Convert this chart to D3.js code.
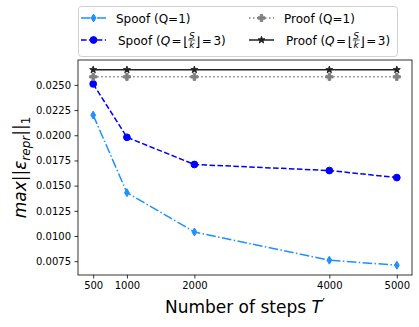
<!DOCTYPE html>
<html>
<head>
<meta charset="utf-8">
<script src="https://cdn.jsdelivr.net/npm/d3@7"></script>
<style>
  body { margin: 0; background: #fff; }
  text { font-family: "DejaVu Sans", sans-serif; fill: #000; }
</style>
</head>
<body>
<div id="chart"></div>
<script>
const steps = [500, 1000, 2000, 4000, 5000];
const spoofQ1 = [0.0220, 0.0143, 0.0104, 0.0076, 0.0071];
const spoofQ3 = [0.0251, 0.0198, 0.0171, 0.0165, 0.0158];
const proofQ1 = [0.0258, 0.0258, 0.0258, 0.0258, 0.0258];
const proofQ3 = [0.0265, 0.0265, 0.0265, 0.0265, 0.0265];
const yTicks = [0.0075, 0.0100, 0.0125, 0.0150, 0.0175, 0.0200, 0.0225, 0.0250];

const W = 419, H = 327;
const plot = { left: 78, top: 60, right: 412, bottom: 275 };

const svg = d3.select('#chart').append('svg')
  .attr('width', W)
  .attr('height', H);

const x = d3.scaleLinear().domain([275, 5225]).range([plot.left, plot.right]);
const y = d3.scaleLinear().domain([0.00613, 0.02747]).range([plot.bottom, plot.top]);

// thin diamond like matplotlib 'd'
const thinDiamond = (s) => `M0,${-s}L${s * 0.6},0L0,${s}L${-s * 0.6},0Z`;

const series = [
  { name: 'spoof1', values: spoofQ1, color: '#1e90ff', dash: '9.6,2.4,1.5,2.4', marker: 'diamond' },
  { name: 'spoof3', values: spoofQ3, color: '#0000ff', dash: '5.55,2.4', marker: 'circle' },
  { name: 'proof1', values: proofQ1, color: '#808080', dash: '1.5,2.5', marker: 'plus' },
  { name: 'proof3', values: proofQ3, color: '#222222', dash: null, marker: 'star' }
];

const markerPath = (m) => {
  if (m === 'diamond') return thinDiamond(4);
  if (m === 'circle') return d3.symbol(d3.symbolCircle, 36)();
  if (m === 'plus') return d3.symbol(d3.symbolCross, 28)();
  return d3.symbol(d3.symbolStar, 15)();
};

const axes = svg.append('g');

const line = d3.line().x((d, i) => x(steps[i])).y(d => y(d));

series.forEach(s => {
  const g = axes.append('g').attr('class', s.name);
  g.append('path')
    .datum(s.values)
    .attr('d', line)
    .attr('fill', 'none')
    .attr('stroke', s.color)
    .attr('stroke-width', 1.5)
    .attr('stroke-dasharray', s.dash);
  g.selectAll('path.mk')
    .data(s.values)
    .join('path')
    .attr('class', 'mk')
    .attr('d', markerPath(s.marker))
    .attr('transform', (d, i) => `translate(${x(steps[i])},${y(d)})`)
    .attr('fill', s.color)
    .attr('stroke', s.color)
    .attr('stroke-width', 1);
});

// x axis
const xAxis = svg.append('g')
  .attr('transform', `translate(0,${plot.bottom})`)
  .call(d3.axisBottom(x).tickValues(steps).tickFormat(d3.format('d')).tickSize(3.5).tickPadding(3.5));
xAxis.select('.domain').remove();
xAxis.selectAll('text').attr('font-size', 10).attr('font-family', 'DejaVu Sans');
xAxis.selectAll('line').attr('stroke', '#000').attr('stroke-width', 0.8);

// y axis
const yAxis = svg.append('g')
  .attr('transform', `translate(${plot.left},0)`)
  .call(d3.axisLeft(y).tickValues(yTicks).tickFormat(d3.format('.4f')).tickSize(3.5).tickPadding(3.5));
yAxis.select('.domain').remove();
yAxis.selectAll('text').attr('font-size', 10).attr('font-family', 'DejaVu Sans');
yAxis.selectAll('line').attr('stroke', '#000').attr('stroke-width', 0.8);

svg.append('rect')
  .attr('x', plot.left).attr('y', plot.top)
  .attr('width', plot.right - plot.left).attr('height', plot.bottom - plot.top)
  .attr('fill', 'none').attr('stroke', '#000').attr('stroke-width', 0.8);

// x label
const xl = svg.append('text')
  .attr('x', (plot.left + plot.right) / 2)
  .attr('y', 313)
  .attr('text-anchor', 'middle')
  .attr('font-size', 17);
xl.append('tspan').text('Number of steps ');
xl.append('tspan').attr('font-style', 'italic').text('T');
xl.append('tspan').attr('dy', -6).attr('dx', 0.5).attr('font-size', 12).text('′');

// y label
const yl = svg.append('text')
  .attr('transform', `translate(26,${(plot.top + plot.bottom) / 2}) rotate(-90)`)
  .attr('text-anchor', 'middle')
  .attr('font-size', 17)
  .attr('font-style', 'italic');
yl.append('tspan').text('max');
yl.append('tspan').attr('font-style', 'normal').text('||');
yl.append('tspan').text('ε');
yl.append('tspan').attr('font-size', 12).attr('dy', 4).text('repr');
yl.append('tspan').attr('font-size', 17).attr('dy', -4).attr('font-style', 'normal').text('||');
yl.append('tspan').attr('font-size', 12).attr('dy', 4).attr('font-style', 'normal').text('1');

// legend
const legend = svg.append('g');
legend.append('rect')
  .attr('x', 78.5).attr('y', 6.5).attr('width', 319).attr('height', 50)
  .attr('rx', 3)
  .attr('fill', '#fff').attr('fill-opacity', 0.8)
  .attr('stroke', '#d0d0d0').attr('stroke-width', 1);

const legendItems = [
  { s: series[0], col: 0, row: 0, label: 'Spoof', frac: false },
  { s: series[1], col: 0, row: 1, label: 'Spoof', frac: true },
  { s: series[2], col: 1, row: 0, label: 'Proof', frac: false },
  { s: series[3], col: 1, row: 1, label: 'Proof', frac: true }
];
const colX = [81, 249];
const rowY = [18, 40];

legendItems.forEach(it => {
  const hx = colX[it.col], hy = rowY[it.row];
  const g = legend.append('g');
  g.append('line')
    .attr('x1', hx).attr('x2', hx + 25).attr('y1', hy).attr('y2', hy)
    .attr('stroke', it.s.color).attr('stroke-width', 1.5)
    .attr('stroke-dasharray', it.s.dash);
  g.append('path')
    .attr('d', markerPath(it.s.marker))
    .attr('transform', `translate(${hx + 12.5},${hy})`)
    .attr('fill', it.s.color).attr('stroke', it.s.color);

  const tx = hx + 35;
  const base = hy + 4.5;
  if (!it.frac) {
    g.append('text').attr('x', tx).attr('y', base).attr('font-size', 12)
      .text(`${it.label} (Q=1)`);
    return;
  }
  // piecewise math text: Label (Q = ⌊S/k⌋ = 3)
  let cx = tx + 2;
  const put = (str, opts = {}) => {
    const t = g.append('text')
      .attr('x', cx).attr('y', opts.y || base)
      .attr('font-size', opts.size || 12)
      .attr('font-style', opts.italic ? 'italic' : 'normal')
      .text(str);
    cx += t.node().getComputedTextLength() + (opts.gap || 0);
    return t;
  };
  put(`${it.label} (`);
  put('Q', { italic: true, gap: 1.5 });
  put('=', { gap: 1.5 });
  put('⌊', { size: 13, y: base + 1.5 });
  const fw = 7;
  g.append('text').attr('x', cx + fw / 2).attr('y', hy - 1.5)
    .attr('text-anchor', 'middle').attr('font-size', 9).attr('font-style', 'italic').text('S');
  g.append('line').attr('x1', cx).attr('x2', cx + fw).attr('y1', hy).attr('y2', hy)
    .attr('stroke', '#000').attr('stroke-width', 0.7);
  g.append('text').attr('x', cx + fw / 2).attr('y', hy + 7.5)
    .attr('text-anchor', 'middle').attr('font-size', 9).attr('font-style', 'italic').text('k');
  cx += fw;
  put('⌋', { size: 13, y: base + 1.5, gap: 1.5 });
  put('=', { gap: 1.5 });
  put('3)');
});
</script>
</body>
</html>
